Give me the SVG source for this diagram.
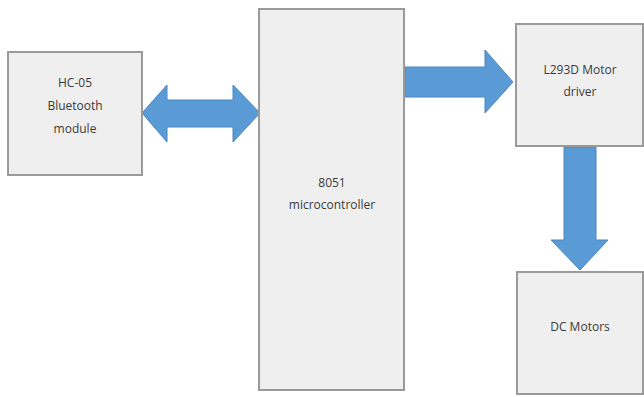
<svg xmlns="http://www.w3.org/2000/svg" width="644" height="397" viewBox="0 0 644 397">
<style>
.box{fill:#efefef;stroke:#9a9a9a;stroke-width:2}
.lbl{font-family:"Open Sans","Liberation Sans",sans-serif;font-size:12px;fill:#3a3a3a;text-anchor:middle}
.arr{fill:#5b9bd5;stroke:#4a86bf;stroke-width:1}
</style>
<rect width="644" height="397" fill="#ffffff"/>
<g id="connectors">
<polygon class="arr" points="142,113 167,85 167,100 233,100 233,85 260,113 233,142 233,127 167,127 167,142"/>
<polygon class="arr" points="405,67 485,67 485,50 513,82 485,113 485,97 405,97"/>
<polygon class="arr" points="564,147 596,147 596,240 608,240 580,270 551,240 564,240"/>
</g>
<g id="bluetooth">
<rect class="box" x="8" y="52" width="134" height="123"/>
<text class="lbl" x="75" y="87">HC-05</text>
<text class="lbl" x="75" y="110">Bluetooth</text>
<text class="lbl" x="75" y="133">module</text>
</g>
<g id="mcu">
<rect class="box" x="259" y="9" width="145" height="381"/>
<text class="lbl" x="332" y="187">8051</text>
<text class="lbl" x="332" y="209">microcontroller</text>
</g>
<g id="driver">
<rect class="box" x="516" y="24" width="127" height="122"/>
<text class="lbl" x="580" y="74">L293D Motor</text>
<text class="lbl" x="580" y="96">driver</text>
</g>
<g id="motors">
<rect class="box" x="517" y="272" width="126" height="122"/>
<text class="lbl" x="580" y="331">DC Motors</text>
</g>
</svg>
